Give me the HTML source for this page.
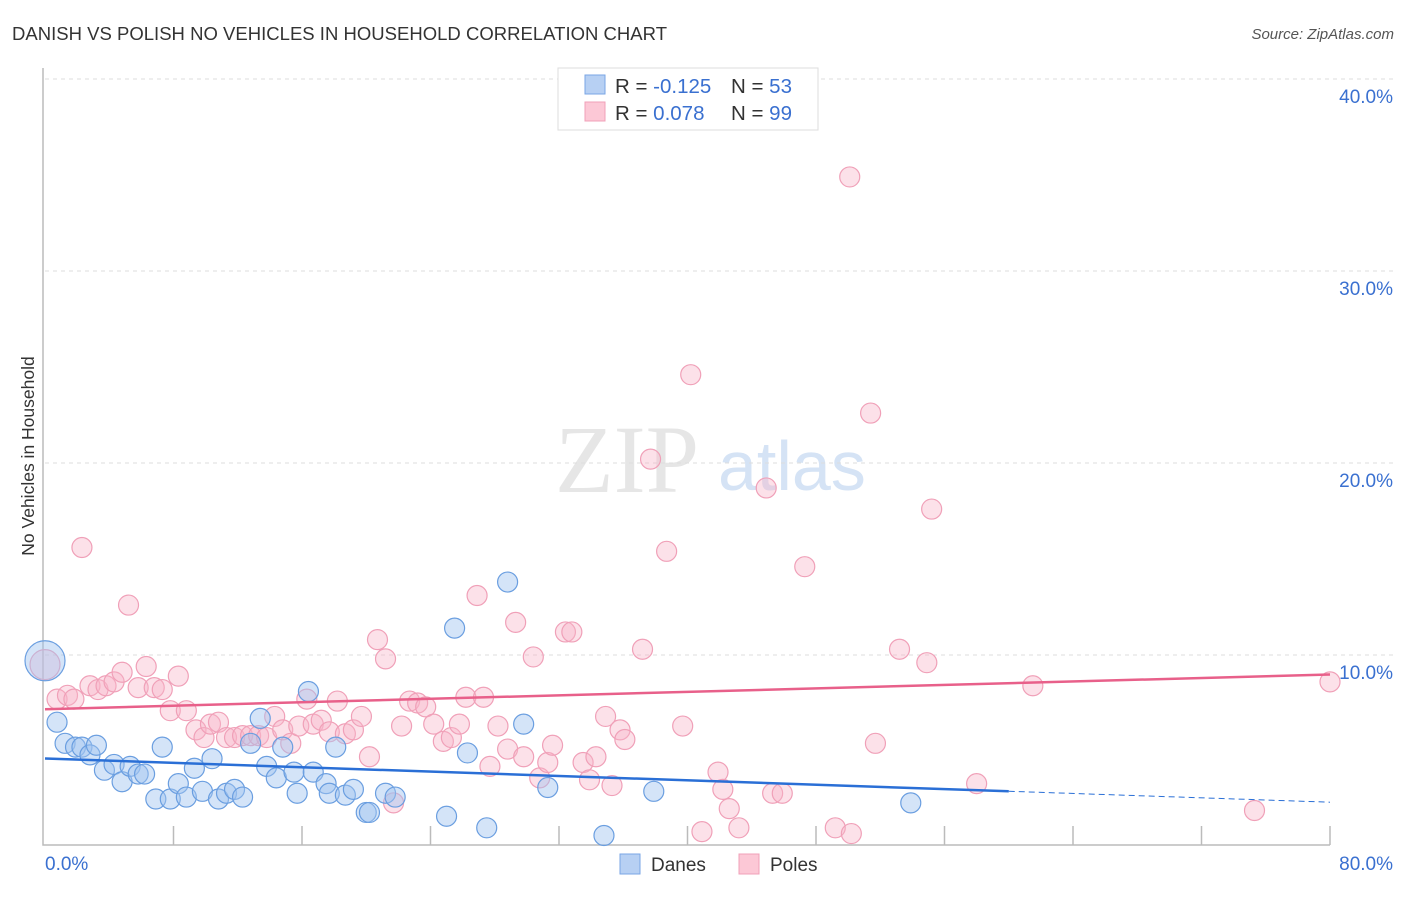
<!DOCTYPE html>
<html><head><meta charset="utf-8"><style>
body{margin:0;background:#fff;font-family:"Liberation Sans",sans-serif}
</style></head><body>
<svg width="1406" height="892" xmlns="http://www.w3.org/2000/svg" id="svg">
<text x="12" y="40" font-size="18.5" fill="#333" textLength="655">DANISH VS POLISH NO VEHICLES IN HOUSEHOLD CORRELATION CHART</text>
<text x="1394" y="39" font-size="15" font-style="italic" fill="#555" text-anchor="end">Source: ZipAtlas.com</text>
<text x="555" y="492" font-size="96" font-family="Liberation Serif,serif" fill="#e6e6e6">ZIP</text>
<text x="718" y="490" font-size="70" fill="#d5e3f5">atlas</text>
<g id="grid"></g>
<g id="axes"></g>
<g id="marks"></g>
<text transform="translate(34,456) rotate(-90)" font-size="17.5" fill="#333" text-anchor="middle">No Vehicles in Household</text>
<g>
<rect x="558" y="68" width="260" height="62" fill="#fff" stroke="#ddd"/>
<rect x="585" y="75" width="20" height="19" fill="#b7d0f3" stroke="#7aa6e4"/>
<rect x="585" y="102" width="20" height="19" fill="#fcc8d6" stroke="#f0a0b8"/>
<text x="615" y="93" font-size="20.5" fill="#333">R = <tspan fill="#3a70d0">-0.125</tspan></text>
<text x="731" y="93" font-size="20.5" fill="#333">N = <tspan fill="#3a70d0">53</tspan></text>
<text x="615" y="120" font-size="20.5" fill="#333">R = <tspan fill="#3a70d0"> 0.078</tspan></text>
<text x="731" y="120" font-size="20.5" fill="#333">N = <tspan fill="#3a70d0">99</tspan></text>
</g>
<g>
<rect x="620" y="854" width="20" height="20" fill="#b7d0f3" stroke="#7aa6e4"/>
<text x="651" y="871" font-size="19" fill="#333">Danes</text>
<rect x="739" y="854" width="20" height="20" fill="#fcc8d6" stroke="#f0a0b8"/>
<text x="770" y="871" font-size="19" fill="#333">Poles</text>
</g>
</svg>
<script>
const yTicks=[10,20,30,40];
const yTickLabels=["10.0%","20.0%","30.0%","40.0%"];
const xTickVals=[0,8,16,24,32,40,48,56,64,72,80];
const danesX=[0,0.75,1.25,1.9,2.3,2.8,3.2,3.7,4.3,4.8,5.3,5.8,6.2,6.9,7.3,7.8,8.3,8.8,9.3,9.8,10.4,10.8,11.3,11.8,12.3,12.8,13.4,13.8,14.4,14.8,15.5,15.7,16.4,16.7,17.5,17.7,18.1,18.7,19.2,20.0,20.2,21.2,21.8,25.0,25.5,26.3,27.5,28.8,29.8,31.3,34.8,37.9,53.9];
const danesY=[9.7,6.5,5.4,5.2,5.2,4.8,5.3,4.0,4.3,3.4,4.2,3.8,3.8,2.5,5.2,2.5,3.3,2.6,4.1,2.9,4.6,2.5,2.8,3.0,2.6,5.4,6.7,4.2,3.6,5.2,3.9,2.8,8.1,3.9,3.3,2.8,5.2,2.7,3.0,1.8,1.8,2.8,2.6,1.6,11.4,4.9,1.0,13.8,6.4,3.1,0.6,2.9,2.3];
const polesX=[0,0.75,1.4,1.8,2.3,2.8,3.3,3.8,4.3,4.8,5.2,5.8,6.3,6.8,7.3,7.8,8.3,8.8,9.4,9.9,10.3,10.8,11.3,11.8,12.3,12.8,13.3,13.8,14.3,14.8,15.3,15.8,16.3,16.7,17.2,17.7,18.2,18.7,19.2,19.7,20.2,20.7,21.2,21.7,22.2,22.7,23.2,23.7,24.2,24.8,25.3,25.8,26.2,26.9,27.3,27.7,28.2,28.8,29.3,29.8,30.4,30.8,31.3,31.6,32.4,32.8,33.5,33.9,34.3,35.3,34.9,35.8,36.1,37.2,37.7,38.7,39.7,40.2,40.9,41.9,42.2,42.6,43.2,44.9,45.3,45.9,47.3,49.2,50.2,50.1,51.4,51.7,53.2,54.9,55.2,58.0,61.5,75.3,80.0];
const polesY=[9.5,7.7,7.9,7.7,15.6,8.4,8.2,8.4,8.6,9.1,12.6,8.3,9.4,8.3,8.2,7.1,8.9,7.1,6.1,5.7,6.4,6.5,5.7,5.7,5.8,5.8,5.8,5.7,6.8,6.1,5.4,6.3,7.7,6.4,6.6,6.0,7.6,5.9,6.1,6.8,4.7,10.8,9.8,2.3,6.3,7.6,7.5,7.3,6.4,5.5,5.7,6.4,7.8,13.1,7.8,4.2,6.3,5.1,11.7,4.7,9.9,3.6,4.4,5.3,11.2,11.2,4.4,3.5,4.7,3.2,6.8,6.1,5.6,10.3,20.2,15.4,6.3,24.6,0.8,3.9,3.0,2.0,1.0,18.7,2.8,2.8,14.6,1.0,0.7,34.9,22.6,5.4,10.3,9.6,17.6,3.3,8.4,1.9,8.6];
const NS="http://www.w3.org/2000/svg";
const X0=45,X1=1330,Y0=847,PPY=19.2;
const xs=v=>X0+(X1-X0)*v/80, ys=v=>Y0-v*PPY;
function mk(tag,attrs,parent){const e=document.createElementNS(NS,tag);for(const k in attrs)e.setAttribute(k,attrs[k]);document.getElementById(parent).appendChild(e);return e;}
yTicks.forEach((t,i)=>{
 const l=mk('line',{x1:X0,x2:1393,y1:ys(t),y2:ys(t),stroke:'#ddd','stroke-dasharray':'4,4'},'grid');
 
 
 const tx=mk('text',{x:1393,y:ys(t)+24,'font-size':19,fill:'#3a70d0','text-anchor':'end'},'grid');
 tx.textContent=yTickLabels[i];
 
 
});
const ax=mk('path',{d:`M43,68V845H1330`,fill:'none',stroke:'#bbb','stroke-width':1.5},'axes');


xTickVals.slice(1).forEach(t=>{const l=mk('line',{x1:xs(t),x2:xs(t),y1:826,y2:845,stroke:'#bbb','stroke-width':1.5},'axes');
 
 });
[[0,"0.0%",'start',45],[80,"80.0%",'end',1393]].forEach(a=>{const t=mk('text',{x:a[3],y:870,'font-size':19,fill:'#3a70d0','text-anchor':a[2]},'axes');t.textContent=a[1];
 
 });
function fit(X,Y){const n=X.length;let mx=0,my=0;X.forEach((v,i)=>{mx+=v;my+=Y[i]});mx/=n;my/=n;let sxy=0,sxx=0;X.forEach((v,i)=>{sxy+=(v-mx)*(Y[i]-my);sxx+=(v-mx)**2});const b=sxy/sxx;return [my-b*mx,b];}
function dots(X,Y,fill,stroke,name,bigR){X.forEach((v,i)=>{const big=(i===0);const c=mk('circle',{cx:xs(v),cy:ys(Y[i]),r:big?bigR:10,fill:fill,stroke:stroke,'stroke-width':1.2},'marks');
 
 });}
dots(polesX,polesY,'rgba(248,180,200,0.4)','#f0a0b8','poles-point',15);
dots(danesX,danesY,'rgba(160,195,240,0.45)','#6a9ee0','danes-point',20);
const [ab,bb]=fit(danesX,danesY),[ap,bp]=fit(polesX,polesY);
const dl=mk('line',{x1:xs(0),y1:ys(ab),x2:xs(60),y2:ys(ab+bb*60),stroke:'#2a6fd6','stroke-width':2.5},'marks');


const dd=mk('line',{x1:xs(60),y1:ys(ab+bb*60),x2:xs(80),y2:ys(ab+bb*80),stroke:'#2a6fd6','stroke-width':1,'stroke-dasharray':'6,4'},'marks');


const pl=mk('line',{x1:xs(0),y1:ys(ap),x2:xs(80),y2:ys(ap+bp*80),stroke:'#e8608a','stroke-width':2.5},'marks');


</script>
</body></html>
